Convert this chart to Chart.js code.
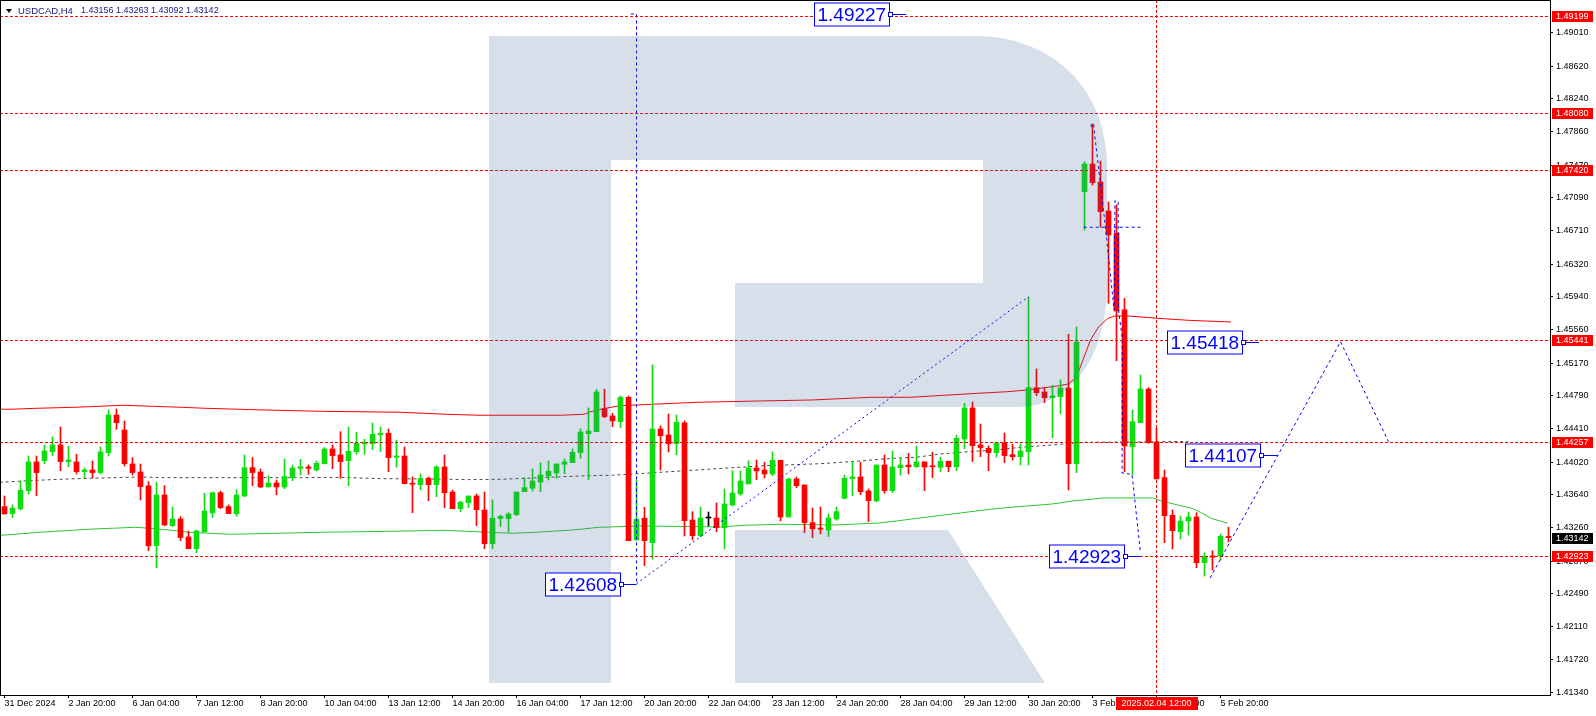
<!DOCTYPE html>
<html>
<head>
<meta charset="utf-8">
<script src="https://cdn.jsdelivr.net/npm/chart.js@4.4.1/dist/chart.umd.min.js"></script>
<style>
  html, body { margin: 0; padding: 0; background: #fff; }
  canvas { display: block; }
</style>
</head>
<body>
<canvas id="chart" width="1596" height="716"></canvas>
<script>
// USDCAD H4 candles, index 0 = first visible bar (31 Dec 2024)
const opens = [
  1.43502, 1.43421, 1.43476, 1.43688, 1.44022, 1.44037, 1.44141, 1.44219, 1.44026, 1.44022,
  1.43909, 1.43928, 1.43898, 1.44130, 1.44567, 1.44393, 1.43998, 1.43905, 1.43743, 1.43048,
  1.43638, 1.43281, 1.43359, 1.43150, 1.43014, 1.43208, 1.43429, 1.43664, 1.43502, 1.43421,
  1.43626, 1.43955, 1.43905, 1.43731, 1.43777, 1.43731, 1.43839, 1.43947, 1.43963, 1.43928,
  1.44002, 1.44172, 1.44103, 1.44037, 1.44141, 1.44231, 1.44234, 1.44339, 1.44355, 1.44076,
  1.44091, 1.43769, 1.43758, 1.43832, 1.43758, 1.43963, 1.43672, 1.43479, 1.43549, 1.43626,
  1.43463, 1.43072, 1.43363, 1.43363, 1.43409, 1.43676, 1.43715, 1.43789, 1.43858, 1.43893,
  1.43994, 1.44014, 1.44130, 1.44351, 1.44373, 1.44641, 1.44556, 1.44490, 1.44773, 1.43115,
  1.43367, 1.43083, 1.44405, 1.44335, 1.44234, 1.44475, 1.43347, 1.43165, 1.43370, 1.43370,
  1.43258, 1.43522, 1.43649, 1.43766, 1.43951, 1.43928, 1.43882, 1.44041, 1.43382, 1.43824,
  1.43754, 1.43316, 1.43254, 1.43231, 1.43359, 1.43599, 1.43827, 1.43847, 1.43684, 1.43568,
  1.43986, 1.43688, 1.43955, 1.43986, 1.43966, 1.44022, 1.43975, 1.43959, 1.44029, 1.43966,
  1.44288, 1.44649, 1.44219, 1.44180, 1.44130, 1.44242, 1.44106, 1.44083, 1.44141, 1.44885,
  1.44835, 1.44768, 1.44780, 1.44881, 1.44002, 1.47162, 1.47484, 1.47275, 1.46938, 1.46679,
  1.45788, 1.44199, 1.44478, 1.44869, 1.44254, 1.43839, 1.43402, 1.43211, 1.43335, 1.43382,
  1.42851, 1.42929, 1.42929, 1.43156
];
const highs = [
  1.43626, 1.43522, 1.43800, 1.44091, 1.44091, 1.44219, 1.44312, 1.44428, 1.44207, 1.44111,
  1.43951, 1.44033, 1.44196, 1.44625, 1.44637, 1.44498, 1.44072, 1.43998, 1.43792, 1.43785,
  1.43746, 1.43499, 1.43386, 1.43219, 1.43231, 1.43657, 1.43672, 1.43684, 1.43522, 1.43699,
  1.44103, 1.44072, 1.43940, 1.43862, 1.43812, 1.44056, 1.43986, 1.44052, 1.43986, 1.44033,
  1.44188, 1.44219, 1.44373, 1.44428, 1.44366, 1.44285, 1.44475, 1.44428, 1.44405, 1.44273,
  1.44196, 1.43847, 1.43882, 1.43847, 1.43978, 1.44103, 1.43692, 1.43565, 1.43626, 1.43650,
  1.43672, 1.43580, 1.43405, 1.43432, 1.43672, 1.43839, 1.43940, 1.44010, 1.44033, 1.43998,
  1.44056, 1.44172, 1.44405, 1.44649, 1.44866, 1.44866, 1.44587, 1.44788, 1.44788, 1.43812,
  1.43495, 1.45148, 1.44440, 1.44579, 1.44567, 1.44498, 1.43444, 1.43499, 1.43440, 1.43545,
  1.43707, 1.43920, 1.43917, 1.44036, 1.44044, 1.44017, 1.44141, 1.44041, 1.43832, 1.43847,
  1.43754, 1.43487, 1.43499, 1.43417, 1.43499, 1.43870, 1.44026, 1.44017, 1.43707, 1.43986,
  1.44103, 1.44149, 1.44064, 1.44122, 1.44207, 1.44022, 1.44134, 1.44076, 1.44029, 1.44335,
  1.44703, 1.44718, 1.44463, 1.44207, 1.44250, 1.44358, 1.44227, 1.44231, 1.45935, 1.45102,
  1.44889, 1.44912, 1.44974, 1.45505, 1.45590, 1.47511, 1.47949, 1.47519, 1.47043, 1.47008,
  1.45923, 1.44625, 1.45032, 1.44885, 1.44413, 1.43928, 1.43463, 1.43394, 1.43440, 1.43432,
  1.42967, 1.42990, 1.43184, 1.43263
];
const lows = [
  1.43417, 1.43375, 1.43464, 1.43646, 1.43630, 1.43999, 1.44095, 1.43920, 1.43966, 1.43882,
  1.43839, 1.43839, 1.43882, 1.44091, 1.44401, 1.43975, 1.43870, 1.43580, 1.42990, 1.42793,
  1.43281, 1.43270, 1.43107, 1.43014, 1.42967, 1.43208, 1.43375, 1.43479, 1.43421, 1.43390,
  1.43615, 1.43746, 1.43723, 1.43731, 1.43641, 1.43711, 1.43804, 1.43870, 1.43878, 1.43917,
  1.43998, 1.43943, 1.43832, 1.43746, 1.44111, 1.44111, 1.44165, 1.44141, 1.43909, 1.43963,
  1.43769, 1.43432, 1.43696, 1.43572, 1.43618, 1.43491, 1.43479, 1.43444, 1.43491, 1.43281,
  1.43014, 1.43014, 1.43270, 1.43211, 1.43397, 1.43676, 1.43684, 1.43676, 1.43812, 1.43832,
  1.43885, 1.44014, 1.44064, 1.43816, 1.44373, 1.44536, 1.44432, 1.44420, 1.43107, 1.43111,
  1.42816, 1.42891, 1.43928, 1.44138, 1.44106, 1.43161, 1.43115, 1.43154, 1.43277, 1.43211,
  1.43010, 1.43510, 1.43634, 1.43766, 1.43816, 1.43835, 1.43862, 1.43336, 1.43382, 1.43723,
  1.43200, 1.43142, 1.43185, 1.43154, 1.43343, 1.43591, 1.43630, 1.43641, 1.43328, 1.43560,
  1.43657, 1.43664, 1.43870, 1.43882, 1.43959, 1.43688, 1.43839, 1.43909, 1.43909, 1.43920,
  1.44176, 1.44026, 1.44083, 1.43920, 1.44076, 1.44014, 1.44044, 1.43986, 1.43986, 1.44792,
  1.44710, 1.44304, 1.44582, 1.43696, 1.43898, 1.46717, 1.47240, 1.46749, 1.45865, 1.45198,
  1.43909, 1.43870, 1.44478, 1.44238, 1.43824, 1.43083, 1.43010, 1.43127, 1.43173, 1.42793,
  1.42696, 1.42766, 1.42882, 1.43092
];
const closes = [
  1.43417, 1.43484, 1.43693, 1.44022, 1.43898, 1.44149, 1.44219, 1.44026, 1.44044, 1.43909,
  1.43928, 1.43898, 1.44138, 1.44567, 1.44478, 1.44002, 1.43898, 1.43735, 1.43048, 1.43638,
  1.43289, 1.43359, 1.43142, 1.43014, 1.43219, 1.43452, 1.43664, 1.43491, 1.43421, 1.43638,
  1.43955, 1.43898, 1.43731, 1.43777, 1.43731, 1.43851, 1.43951, 1.43966, 1.43947, 1.44006,
  1.44172, 1.44095, 1.44026, 1.44145, 1.44238, 1.44250, 1.44343, 1.44355, 1.44072, 1.44091,
  1.43769, 1.43762, 1.43827, 1.43758, 1.43963, 1.43664, 1.43479, 1.43553, 1.43626, 1.43467,
  1.43072, 1.43367, 1.43390, 1.43417, 1.43672, 1.43723, 1.43800, 1.43870, 1.43913, 1.43998,
  1.44022, 1.44134, 1.44370, 1.44381, 1.44835, 1.44548, 1.44498, 1.44773, 1.43107, 1.43355,
  1.43107, 1.44405, 1.44327, 1.44234, 1.44483, 1.43339, 1.43165, 1.43370, 1.43370, 1.43258,
  1.43533, 1.43661, 1.43800, 1.43951, 1.43917, 1.43882, 1.44041, 1.43382, 1.43824, 1.43746,
  1.43316, 1.43243, 1.43239, 1.43370, 1.43444, 1.43832, 1.43847, 1.43676, 1.43572, 1.43986,
  1.43688, 1.43963, 1.43986, 1.43966, 1.44022, 1.43963, 1.43966, 1.44029, 1.43966, 1.44297,
  1.44649, 1.44211, 1.44188, 1.44130, 1.44242, 1.44095, 1.44083, 1.44149, 1.44885, 1.44826,
  1.44768, 1.44788, 1.44881, 1.44002, 1.45416, 1.47484, 1.47267, 1.46930, 1.46659, 1.45776,
  1.44207, 1.44489, 1.44869, 1.44245, 1.43824, 1.43397, 1.43223, 1.43335, 1.43382, 1.42851,
  1.42921, 1.42914, 1.43156, 1.43142
];

// moving averages (bar index, price)
const redMaIdx = [-0.6, 0.9, 3.9, 8.9, 14.9, 18.5, 22, 25.1, 29.1, 34.1, 39.5, 49.5, 52.4, 55.4, 59.5, 69.5, 72.4, 73.3, 75.1, 77,
  81.1, 86.6, 94.5, 101.1, 108.3, 113.3, 117.4, 121.6, 125.4, 127.9, 131.6, 133, 134, 134.8, 135.75, 136.75, 137.9, 138.75, 140.4, 144.1, 148.3, 153.3];
const redMaVal = [1.44634, 1.44634, 1.44645, 1.44657, 1.44680, 1.44668, 1.44657, 1.44645, 1.44634, 1.44622, 1.44610, 1.44599, 1.44587, 1.44575, 1.44564, 1.44564, 1.44575, 1.44606, 1.44645, 1.44675,
  1.44692, 1.44715, 1.44730, 1.44742, 1.44773, 1.44773, 1.44796, 1.44819, 1.44838, 1.44858, 1.44904, 1.44928, 1.45009, 1.45206, 1.45439, 1.45590, 1.45689, 1.45718, 1.45718, 1.45691, 1.45666, 1.45648];
const greenMaIdx = [-0.6, 1.4, 4.3, 6.4, 8.5, 10.5, 13.5, 16.4, 18, 19.5, 21, 23, 28.3, 34.5, 39.5, 48.3, 55, 57.5, 60.5, 63.5,
  66.4, 68.5, 70.5, 72.4, 74.3, 79.5, 89.5, 92.6, 97, 103.9, 109.3, 111.8, 114.5, 119.5, 123.3, 125.8, 127.9, 131, 133.5, 135.8,
  137.4, 143.6, 144.5, 145.8, 147, 148.3, 149.5, 150.8, 152.9];
const greenMaVal = [1.43169, 1.43181, 1.43204, 1.43216, 1.43227, 1.43239, 1.43251, 1.43262, 1.43251, 1.43239, 1.43227, 1.43204, 1.43181, 1.43193, 1.43204, 1.43216, 1.43227, 1.43216, 1.43204, 1.43193,
  1.43204, 1.43216, 1.43227, 1.43243, 1.43262, 1.43277, 1.43266, 1.43286, 1.43297, 1.43289, 1.43312, 1.43339, 1.43371, 1.43429, 1.43472, 1.43495, 1.43510, 1.43533, 1.43568, 1.43588,
  1.43603, 1.43603, 1.43571, 1.43541, 1.43513, 1.43487, 1.43437, 1.43367, 1.43309];
const greyMaIdx = [-0.6, 4, 8, 12, 17, 20, 37, 42, 47, 53, 58, 62, 68, 73, 76, 80, 86, 95, 102, 107, 111, 114, 117, 120, 124, 127, 131, 135, 142, 148];
const greyMaVal = [1.43785, 1.43808, 1.43824, 1.43835, 1.43847, 1.43839, 1.43839, 1.43843, 1.43827, 1.43824, 1.43816, 1.43820, 1.43843, 1.43862, 1.43867, 1.43890, 1.43925, 1.43978, 1.44001, 1.44033,
  1.44064, 1.44076, 1.44114, 1.44137, 1.44161, 1.44192, 1.44219, 1.44250, 1.44254, 1.44260];

// blue drawings (bar index, price)
const forecastPath = [[150.7, 1.42673], [167, 1.45418], [173, 1.44257]];
const swingLine = [[79, 1.42608], [128, 1.45940]];
const swingStem = [[78.3, 1.49227], [79, 1.49227], [79, 1.42608]];
const dropPath = [[135.84, 1.47914], [135.84, 1.47949], [136.16, 1.47949], [136.16, 1.47914], [137.63, 1.46740], [138.7, 1.45787],
  [138.8, 1.47054], [139.2, 1.47054], [139.25, 1.45787], [139.7, 1.45474], [139.7, 1.43893], [140.05, 1.43893], [140.95, 1.43870], [142, 1.42964]];
const gapLine = [[134.9, 1.46749], [142, 1.46749]];
const blueLabelVal = [1.49227, 1.45418, 1.44107, 1.42923, 1.42608];
const blueLabelAt = [112.7, 156.8, 159.1, 142, 79];

// horizontal levels, vertical marker, axes
const levels = [1.49199, 1.48080, 1.47420, 1.45441, 1.44257, 1.42923];
const markIdx = 144;
const markText = '2025.02.04 12:00';
const yTicks = [1.49010, 1.48620, 1.48240, 1.47860, 1.47470, 1.47090, 1.46710, 1.46320, 1.45940, 1.45560, 1.45170,
  1.44790, 1.44410, 1.44020, 1.43640, 1.43260, 1.42870, 1.42490, 1.42110, 1.41720, 1.41340];
const dateIdx = [0, 8, 16, 24, 32, 40, 48, 56, 64, 72, 80, 88, 96, 104, 112, 120, 128, 136, 144, 152];
const dateLabels = ['31 Dec 2024', '2 Jan 20:00', '6 Jan 04:00', '7 Jan 12:00', '8 Jan 20:00', '10 Jan 04:00', '13 Jan 12:00',
  '14 Jan 20:00', '16 Jan 04:00', '17 Jan 12:00', '20 Jan 20:00', '22 Jan 04:00', '23 Jan 12:00', '24 Jan 20:00',
  '28 Jan 04:00', '29 Jan 12:00', '30 Jan 20:00', '3 Feb 04:00', '4 Feb 12:00', '5 Feb 20:00'];
const symbol = 'USDCAD,H4';

const UP = '#10dc10', DOWN = '#ff0000', FONT = '"Liberation Sans", Arial, sans-serif';
Chart.defaults.font.family = FONT;
Chart.defaults.font.size = 9;
Chart.defaults.color = '#000';

const candleColor = opens.map((o, i) => closes[i] > o ? UP : closes[i] < o ? DOWN : '#000');
const pts = (xs, ys) => xs.map((x, k) => ({ x, y: ys[k] }));
const pairPts = arr => arr.map(p => ({ x: p[0], y: p[1] }));
const blueLine = (data, dash) => ({
  type: 'line', data: pairPts(data), borderColor: '#0000ff', borderWidth: 1,
  borderDash: dash || [3, 3], pointRadius: 0, tension: 0, order: -1
});
const noPad = s => { s.paddingTop = 0; s.paddingBottom = 0; s.paddingLeft = 0; s.paddingRight = 0; };

const mtOverlay = {
  id: 'mtOverlay',
  afterDatasetsDraw(chart) {
    const { ctx, chartArea: a, scales: { x, y } } = chart;
    ctx.save();
    ctx.beginPath();
    ctx.rect(a.left, a.top, a.right - a.left, a.bottom - a.top);
    ctx.clip();

    // red dashed levels and the vertical time marker
    ctx.strokeStyle = '#ff0000';
    ctx.lineWidth = 1;
    ctx.setLineDash([3, 2]);
    levels.forEach(v => {
      const py = Math.round(y.getPixelForValue(v)) + 0.5;
      ctx.beginPath(); ctx.moveTo(a.left, py); ctx.lineTo(a.right, py); ctx.stroke();
    });
    const mx = Math.floor(x.getPixelForValue(markIdx)) + 0.5;
    ctx.beginPath(); ctx.moveTo(mx, a.top); ctx.lineTo(mx, a.bottom); ctx.stroke();

    // translucent logo watermark
    ctx.setLineDash([]);
    ctx.fillStyle = 'rgba(50, 95, 150, 0.2)';
    ctx.fillRect(489, 36, 122, 647);
    ctx.beginPath();
    ctx.moveTo(611, 36);
    ctx.lineTo(975, 36);
    ctx.bezierCurveTo(1045, 36, 1103, 80, 1107, 160);
    ctx.lineTo(1107, 290);
    ctx.bezierCurveTo(1105, 360, 1070, 405, 1020, 407);
    ctx.lineTo(735, 407);
    ctx.lineTo(735, 283);
    ctx.lineTo(983, 283);
    ctx.lineTo(983, 160);
    ctx.lineTo(611, 160);
    ctx.closePath();
    ctx.fill();
    ctx.beginPath();
    ctx.moveTo(735, 530); ctx.lineTo(948, 530); ctx.lineTo(1045, 683); ctx.lineTo(735, 683);
    ctx.closePath();
    ctx.fill();

    // blue value labels
    ctx.font = '19px ' + FONT;
    ctx.textBaseline = 'middle';
    blueLabelVal.forEach((v, k) => {
      const ax = x.getPixelForValue(blueLabelAt[k]);
      const ay = Math.round(y.getPixelForValue(v)) + 0.5;
      const t = v.toFixed(5);
      const w = Math.round(ctx.measureText(t).width) + 6, h = 23;
      const bx = Math.round(ax - 17 - w) + 0.5, by = Math.round(ay - h / 2);
      ctx.strokeStyle = '#0000ff';
      ctx.beginPath(); ctx.moveTo(bx + w, ay); ctx.lineTo(ax, ay); ctx.stroke();
      ctx.fillStyle = '#fff';
      ctx.fillRect(bx, by, w, h);
      ctx.strokeRect(bx, by, w, h);
      ctx.fillRect(bx + w - 1, ay - 2, 4, 4);
      ctx.strokeRect(bx + w - 1, ay - 2, 4, 4);
      ctx.fillStyle = '#0000ff';
      ctx.fillText(t, bx + 3, ay + 1);
    });
    ctx.restore();
  },
  afterDraw(chart) {
    const { ctx, chartArea: a, scales: { x, y } } = chart;
    ctx.save();
    ctx.strokeStyle = '#000';
    ctx.lineWidth = 1;
    ctx.strokeRect(0.5, 0.5, a.right, a.bottom);

    // price boxes on the right axis
    ctx.font = '9px ' + FONT;
    ctx.textBaseline = 'middle';
    const tag = (v, bg) => {
      const cy = Math.round(y.getPixelForValue(v));
      ctx.fillStyle = bg;
      ctx.fillRect(a.right + 2, cy - 5, 41, 11);
      ctx.fillStyle = '#fff';
      ctx.fillText(v.toFixed(5), a.right + 6, cy + 0.5);
    };
    levels.forEach(v => tag(v, '#ff0000'));
    tag(closes[closes.length - 1], '#000');

    // time marker box on the bottom axis
    const mx = x.getPixelForValue(markIdx);
    ctx.fillStyle = '#ff0000';
    ctx.fillRect(Math.round(mx - 41), a.bottom + 2, 82, 13);
    ctx.fillStyle = '#fff';
    ctx.textAlign = 'center';
    ctx.fillText(markText, mx, a.bottom + 8.5);

    // symbol line in the top-left corner
    ctx.textAlign = 'left';
    ctx.fillStyle = '#000';
    ctx.beginPath(); ctx.moveTo(6, 9); ctx.lineTo(12, 9); ctx.lineTo(9, 13); ctx.closePath(); ctx.fill();
    const last = closes.length - 1;
    ctx.fillStyle = '#16168a';
    ctx.font = '9.5px ' + FONT;
    ctx.fillText(symbol, 18, 11);
    ctx.font = '9px ' + FONT;
    ctx.fillText([opens[last], highs[last], lows[last], closes[last]].map(v => v.toFixed(5)).join(' '), 81, 11);
    ctx.restore();
  }
};

const ctx = document.getElementById('chart').getContext('2d');
new Chart(ctx, {
  type: 'bar',
  data: {
    datasets: [
      { type: 'bar', data: opens.map((o, i) => ({ x: i, y: [lows[i], highs[i]] })), backgroundColor: candleColor,
        barThickness: 1, grouped: false, borderWidth: 0, order: 1 },
      { type: 'bar', data: opens.map((o, i) => ({ x: i, y: [o, closes[i]] })), backgroundColor: candleColor,
        barThickness: 5, grouped: false, borderWidth: 0, minBarLength: 1, order: 0 },
      { type: 'line', data: pts(redMaIdx, redMaVal), borderColor: '#ff0000', borderWidth: 1, pointRadius: 0, tension: 0, order: 5 },
      { type: 'line', data: pts(greenMaIdx, greenMaVal), borderColor: '#2fc52f', borderWidth: 1, pointRadius: 0, tension: 0, order: 5 },
      { type: 'line', data: pts(greyMaIdx, greyMaVal), borderColor: '#4a4a4a', borderWidth: 1, borderDash: [3, 3], pointRadius: 0, tension: 0, order: 5 },
      blueLine(forecastPath),
      blueLine(swingLine, [2, 3]),
      blueLine(swingStem),
      blueLine(dropPath),
      blueLine(gapLine)
    ]
  },
  options: {
    responsive: false,
    animation: false,
    events: [],
    layout: { padding: 0 },
    plugins: { legend: { display: false }, tooltip: { enabled: false } },
    scales: {
      x: {
        type: 'linear', offset: false, min: -0.5625, max: 193.1875,
        afterBuildTicks: s => { s.ticks = dateIdx.map(v => ({ value: v })); },
        afterFit: s => { s.height = 21; noPad(s); },
        grid: { display: true, offset: false, drawOnChartArea: false, drawTicks: true, tickLength: 3, color: '#000' },
        border: { display: false },
        ticks: { autoSkip: false, maxRotation: 0, minRotation: 0, align: 'start', padding: 0, color: '#000',
          callback: (v, k) => dateLabels[k] }
      },
      y: {
        type: 'linear', position: 'right', min: 1.41313, max: 1.49390, beginAtZero: false,
        afterBuildTicks: s => { s.ticks = yTicks.map(v => ({ value: v })); },
        afterFit: s => { s.width = 46; noPad(s); },
        grid: { display: true, drawOnChartArea: false, drawTicks: true, tickLength: 3, color: '#000' },
        border: { display: false },
        ticks: { autoSkip: false, padding: 3, color: '#000', callback: v => v.toFixed(5) }
      }
    }
  },
  plugins: [mtOverlay]
});
</script>
</body>
</html>
